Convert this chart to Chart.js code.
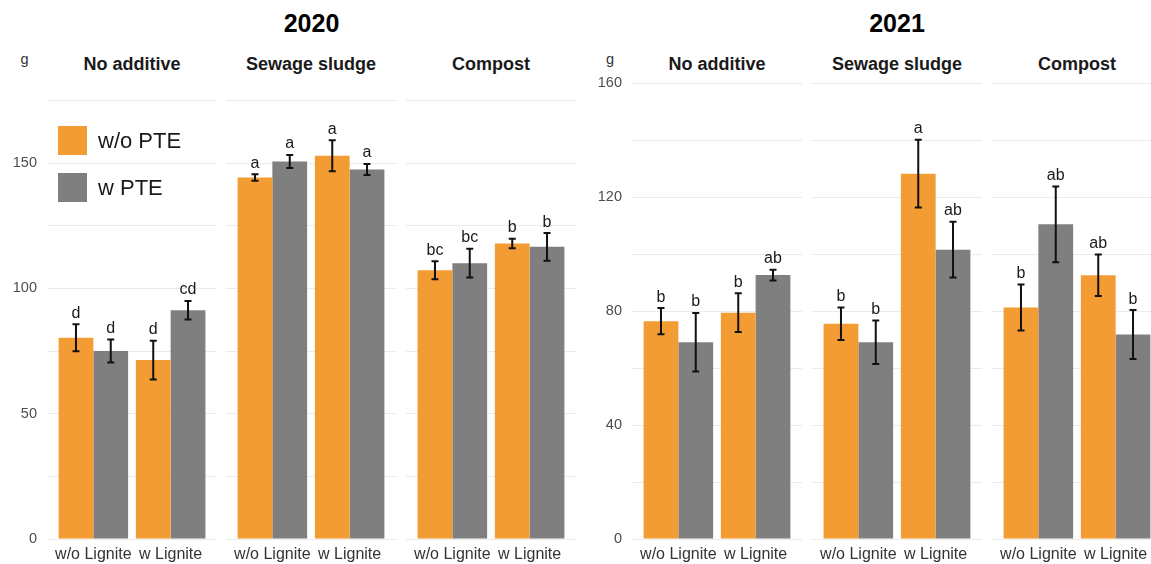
<!DOCTYPE html>
<html>
<head>
<meta charset="utf-8">
<script src="https://cdn.jsdelivr.net/npm/chart.js@4.4.1/dist/chart.umd.min.js"></script>
<style>
  html, body { margin: 0; padding: 0; background: #fff; overflow: hidden; }
  #wrap { position: relative; width: 1151px; height: 564px; overflow: hidden;
          font-family: "Liberation Sans", Arial, sans-serif; background: #fff; }
  #wrap canvas { position: absolute; }
  .txt { position: absolute; white-space: nowrap; line-height: 1; }
  .sw { position: absolute; }
</style>
</head>
<body>
<div id="wrap"></div>
<script>
// ---- data -------------------------------------------------------------
const categories = ['w/o Lignite', 'w Lignite'];
const facets = ['No additive', 'Sewage sludge', 'Compost'];
const seriesNames = ['w/o PTE', 'w PTE'];
const seriesColors = ['#F39C33', '#7F7F7F'];

// values in facet order: No additive (w/o, w Lignite), Sewage sludge (...), Compost (...)
const woPTE2020 = [80.3, 71.4, 144.3, 153.0, 107.3, 117.9];
const woPTE2020Err = [5.4, 7.7, 1.3, 6.2, 3.6, 1.9];
const woPTE2020Letters = ['d', 'd', 'a', 'a', 'bc', 'b'];
const wPTE2020 = [75.0, 91.3, 150.7, 147.5, 110.1, 116.6];
const wPTE2020Err = [4.6, 3.7, 2.6, 2.2, 5.7, 5.5];
const wPTE2020Letters = ['d', 'cd', 'a', 'a', 'bc', 'b'];

const woPTE2021 = [76.5, 79.5, 75.6, 128.3, 81.3, 92.6];
const woPTE2021Err = [4.6, 6.8, 5.7, 11.9, 8.1, 7.3];
const woPTE2021Letters = ['b', 'b', 'b', 'a', 'b', 'ab'];
const wPTE2021 = [69.1, 92.7, 69.1, 101.6, 110.5, 71.8];
const wPTE2021Err = [10.3, 1.9, 7.6, 9.8, 13.3, 8.6];
const wPTE2021Letters = ['b', 'ab', 'b', 'ab', 'ab', 'b'];

const yTicks2020 = [0, 25, 50, 75, 100, 125, 150, 175];
const yLabels2020 = ['0', '', '50', '', '100', '', '150', ''];
const yMax2020 = 184;
const yTicks2021 = [0, 20, 40, 60, 80, 100, 120, 140, 160];
const yLabels2021 = ['0', '', '40', '', '80', '', '120', '', '160'];
const yMax2021 = 161.9;

// ---- layout -----------------------------------------------------------
const FONT = '"Liberation Sans", Arial, sans-serif';
const AREA_TOP = 78, AREA_H = 461, PAD_TOP = 12, X_H = 26, FACET_W = 170;

const panels = [
  { year: '2020', wo: woPTE2020, woErr: woPTE2020Err, woLet: woPTE2020Letters,
    w: wPTE2020, wErr: wPTE2020Err, wLet: wPTE2020Letters,
    ticks: yTicks2020, labels: yLabels2020, yMax: yMax2020,
    lefts: [47, 226, 406], axisW: 47, titleX: 311.5, unitX: 24.5, legend: true },
  { year: '2021', wo: woPTE2021, woErr: woPTE2021Err, woLet: woPTE2021Letters,
    w: wPTE2021, wErr: wPTE2021Err, wLet: wPTE2021Letters,
    ticks: yTicks2021, labels: yLabels2021, yMax: yMax2021,
    lefts: [632, 812, 992], axisW: 42, titleX: 897, unitX: 610, legend: false }
];

const wrap = document.getElementById('wrap');

// text placed by its baseline
function addText(str, x, baseline, size, opts = {}) {
  const d = document.createElement('div');
  d.className = 'txt';
  d.textContent = str;
  d.style.fontSize = size + 'px';
  d.style.fontWeight = opts.bold ? 'bold' : 'normal';
  d.style.color = opts.color || '#1A1A1A';
  d.style.top = (baseline - 0.8465 * size) + 'px';
  d.style.left = x + 'px';
  if (opts.align !== 'left') d.style.transform = 'translateX(-50%)';
  wrap.appendChild(d);
}

function addSwatch(x, y, w, h, color) {
  const d = document.createElement('div');
  d.className = 'sw';
  Object.assign(d.style, { left: x + 'px', top: y + 'px', width: w + 'px', height: h + 'px', background: color });
  wrap.appendChild(d);
}

// error bars and significance letters on top of each bar
const errorBarPlugin = {
  id: 'errorBars',
  afterDatasetsDraw(chart) {
    const ctx = chart.ctx;
    const yScale = chart.scales.y;
    chart.data.datasets.forEach((ds, di) => {
      const meta = chart.getDatasetMeta(di);
      meta.data.forEach((bar, i) => {
        const v = ds.data[i].y, e = ds.errors[i];
        const top = yScale.getPixelForValue(v + e);
        const bot = yScale.getPixelForValue(v - e);
        ctx.save();
        ctx.strokeStyle = '#111';
        ctx.lineWidth = 2;
        ctx.beginPath();
        ctx.moveTo(bar.x, top); ctx.lineTo(bar.x, bot);
        ctx.moveTo(bar.x - 3.5, top); ctx.lineTo(bar.x + 3.5, top);
        ctx.moveTo(bar.x - 3.5, bot); ctx.lineTo(bar.x + 3.5, bot);
        ctx.stroke();
        ctx.fillStyle = '#1A1A1A';
        ctx.font = '16px ' + FONT;
        ctx.textAlign = 'center';
        ctx.textBaseline = 'alphabetic';
        ctx.fillText(ds.letters[i], bar.x, top - 6.5);
        ctx.restore();
      });
    });
  }
};

Chart.defaults.font.family = FONT;

panels.forEach(p => {
  addText(p.year, p.titleX, 31.7, 25, { bold: true, color: '#000' });
  addText('g', p.unitX, 64.5, 14.5, { color: '#333' });

  facets.forEach((facet, f) => {
    const axisW = f === 0 ? p.axisW : 0;
    const left = p.lefts[f] - axisW;
    addText(facet, p.lefts[f] + FACET_W / 2, 70.7, 18, { bold: true, color: '#1A1A1A' });

    const canvas = document.createElement('canvas');
    canvas.width = axisW + FACET_W;
    canvas.height = PAD_TOP + AREA_H + X_H;
    canvas.style.left = left + 'px';
    canvas.style.top = (AREA_TOP - PAD_TOP) + 'px';
    canvas.style.width = canvas.width + 'px';
    canvas.style.height = canvas.height + 'px';
    wrap.appendChild(canvas);

    const i0 = 2 * f, i1 = 2 * f + 1;
    const series = [
      { vals: p.wo, err: p.woErr, let: p.woLet },
      { vals: p.w, err: p.wErr, let: p.wLet }
    ];

    new Chart(canvas, {
      type: 'bar',
      data: {
        datasets: series.map((s, si) => ({
          label: seriesNames[si],
          data: [{ x: 1, y: s.vals[i0] }, { x: 2, y: s.vals[i1] }],
          errors: [s.err[i0], s.err[i1]],
          letters: [s.let[i0], s.let[i1]],
          backgroundColor: seriesColors[si],
          borderWidth: 0,
          categoryPercentage: 0.9,
          barPercentage: 1.0
        }))
      },
      options: {
        responsive: false,
        devicePixelRatio: 1,
        animation: false,
        layout: { padding: { top: PAD_TOP, left: 0, right: 0, bottom: 0 } },
        plugins: { legend: { display: false }, tooltip: { enabled: false }, title: { display: false } },
        scales: {
          x: {
            type: 'linear',
            offset: false,
            min: 0.4, max: 2.6,
            afterBuildTicks: s => { s.ticks = [{ value: 1 }, { value: 2 }]; },
            afterFit: s => { s.height = X_H; s.paddingLeft = 0; s.paddingRight = 0; },
            grid: { display: false, drawTicks: false },
            border: { display: false },
            ticks: {
              autoSkip: false, maxRotation: 0, minRotation: 0, padding: 5.5,
              color: '#333', font: { size: 16 },
              callback: v => categories[Math.round(v) - 1]
            }
          },
          y: {
            min: 0, max: p.yMax,
            afterBuildTicks: s => { s.ticks = p.ticks.map(v => ({ value: v })); },
            afterFit: s => { s.width = axisW; s.paddingTop = 0; s.paddingBottom = 0; },
            grid: { color: '#EBEBEB', lineWidth: 1, drawTicks: false },
            border: { display: false },
            ticks: {
              display: f === 0, padding: 10, color: '#4D4D4D', font: { size: 14.5 },
              callback: (v, i) => p.labels[i]
            }
          }
        }
      },
      plugins: [errorBarPlugin]
    });
  });

  if (p.legend) {
    addSwatch(58, 126, 29, 29, seriesColors[0]);
    addSwatch(58, 173, 29, 29, seriesColors[1]);
    addText(seriesNames[0], 98, 149, 22, { align: 'left', color: '#1A1A1A' });
    addText(seriesNames[1], 98, 196, 22, { align: 'left', color: '#1A1A1A' });
  }
});
</script>
</body>
</html>
